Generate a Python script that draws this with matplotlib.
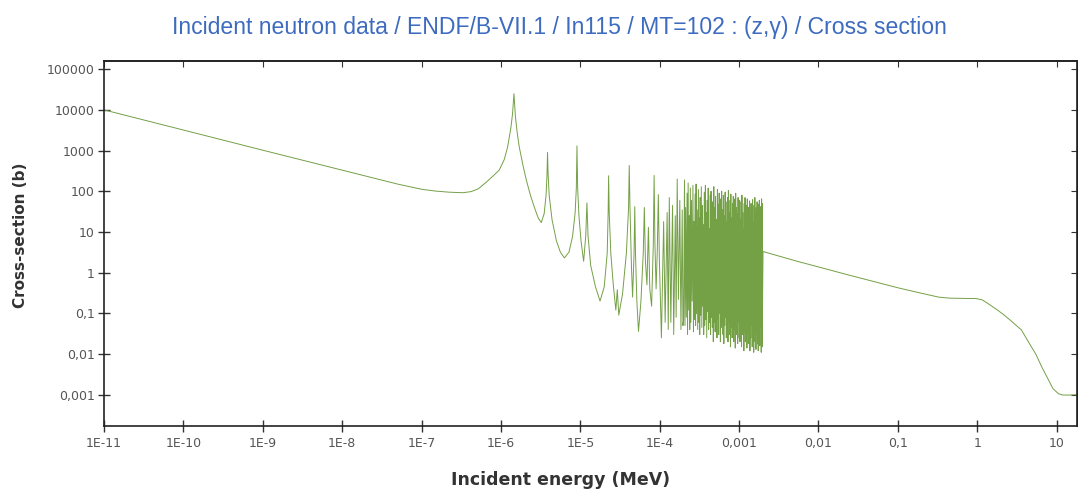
#importaciones
import numpy as np
import matplotlib
matplotlib.use('Agg')
import matplotlib.pyplot as plt
from matplotlib.ticker import NullLocator

#datos

# zona 1/v y primeras resonancias aisladas (E en MeV, sigma en b)
bajo_e = [1e-11, 1e-9, 5e-8, 1e-7, 1.5e-7, 2.2e-7, 3.3e-7, 4.2e-7, 5.2e-7, 6.6e-7,
          8e-7, 9.5e-7, 1.1e-6,
          1.21e-6, 1.33e-6, 1.40e-6, 1.457e-6, 1.52e-6, 1.60e-6, 1.70e-6, 1.90e-6, 2.09e-6, 2.35e-6,
          2.64e-6, 2.95e-6, 3.22e-6, 3.50e-6, 3.70e-6, 3.80e-6, 3.86e-6, 3.93e-6, 4.05e-6, 4.40e-6,
          5.0e-6, 5.6e-6, 6.3e-6, 7.2e-6, 8.0e-6, 8.6e-6, 8.9e-6, 9.07e-6, 9.25e-6, 9.6e-6,
          1.02e-5, 1.10e-5, 1.17e-5, 1.21e-5, 1.25e-5, 1.35e-5, 1.55e-5, 1.77e-5, 2.0e-5, 2.18e-5,
          2.24e-5, 2.27e-5, 2.31e-5, 2.42e-5, 2.6e-5, 2.8e-5, 2.92e-5, 3.05e-5, 3.4e-5, 3.8e-5,
          4.05e-5, 4.13e-5, 4.22e-5, 4.40e-5, 4.55e-5, 4.75e-5, 4.85e-5, 4.95e-5, 5.15e-5, 5.4e-5,
          5.8e-5, 6.2e-5, 6.4e-5, 6.6e-5, 6.9e-5, 7.2e-5, 7.5e-5, 7.9e-5, 8.3e-5, 8.5e-5,
          8.7e-5, 9.0e-5, 9.3e-5, 9.6e-5, 9.9e-5, 1.05e-4, 1.12e-4, 1.17e-4, 1.24e-4, 1.28e-4,
          1.32e-4, 1.38e-4, 1.45e-4, 1.50e-4, 1.57e-4, 1.61e-4, 1.66e-4, 1.72e-4, 1.79e-4, 1.85e-4,
          1.92e-4, 1.96e-4, 2.00e-4]
bajo_xs = [10000, 1020, 150, 112, 101, 95, 92, 98, 115, 170,
           240, 330, 600,
           1200, 3500, 8000, 25000, 7000, 2800, 1230, 420, 187, 80,
           40, 22, 17, 28, 80, 250, 900, 250, 80, 20,
           6, 3.2, 2.3, 3.2, 8, 30, 120, 1300, 120, 25,
           6, 1.9, 8, 52, 8, 1.5, 0.45, 0.2, 0.45, 3,
           30, 240, 30, 3, 0.5, 0.12, 0.38, 0.09, 0.3, 3,
           40, 430, 40, 1.5, 0.25, 3, 42, 3, 0.2, 0.036,
           0.2, 3, 40, 2, 0.5, 13, 0.4, 0.15, 5, 245,
           5, 0.4, 3, 83, 2, 0.025, 18, 0.06, 30, 0.04,
           70, 0.06, 45, 0.03, 25, 0.08, 200, 0.22, 60, 0.04,
           35, 0.05, 0.07]

# bosque de resonancias entre 200 eV y 2 keV (E en eV)
pico_ev = [205, 212, 221, 228, 236, 243, 251, 262, 270, 279,
           287, 296, 307, 316, 323, 334, 345, 353, 364, 376,
           385, 397, 408, 418, 431, 443, 455, 466, 480, 493,
           505, 519, 533, 546, 561, 575, 588, 603, 620, 634,
           650, 667, 682, 699, 716, 733, 752, 770, 787, 806,
           826, 845, 866, 884, 905, 927, 948, 970, 992, 1015,
           1038, 1062, 1085, 1110, 1136, 1160, 1187, 1213, 1240, 1268,
           1296, 1325, 1355, 1384, 1415, 1447, 1478, 1511, 1545, 1578,
           1613, 1648, 1685, 1722, 1760, 1798, 1838, 1878, 1920, 1948]
pico_xs = [190, 40, 90, 160, 25, 120, 60, 140, 18, 85,
           150, 35, 110, 22, 70, 130, 45, 15, 95, 140,
           30, 60, 120, 12, 80, 100, 28, 55, 130, 40,
           75, 20, 110, 48, 90, 14, 65, 100, 35, 80,
           25, 95, 55, 18, 70, 105, 30, 60, 85, 22,
           50, 75, 16, 65, 90, 40, 28, 70, 45, 60,
           20, 55, 80, 30, 12, 50, 70, 25, 45, 65,
           15, 40, 58, 22, 50, 35, 62, 18, 45, 70,
           28, 40, 55, 14, 48, 60, 30, 42, 65, 50]
valle_ev = [208, 216, 224, 232, 239, 247, 256, 266, 274, 283,
            291, 301, 311, 319, 328, 339, 349, 358, 370, 380,
            391, 402, 413, 424, 437, 449, 460, 473, 486, 499,
            512, 526, 539, 553, 568, 581, 595, 611, 627, 642,
            658, 674, 690, 707, 724, 742, 761, 778, 796, 816,
            835, 855, 875, 894, 916, 937, 959, 981, 1003, 1026,
            1050, 1073, 1097, 1123, 1148, 1173, 1200, 1226, 1254, 1282,
            1310, 1340, 1369, 1399, 1431, 1462, 1494, 1528, 1561, 1595,
            1630, 1666, 1703, 1741, 1779, 1818, 1858, 1899, 1934, 1952]
valle_xs = [0.05, 0.08, 0.03, 0.12, 0.04, 0.06, 0.2, 0.035, 0.07, 0.05,
            0.1, 0.04, 0.06, 0.03, 0.09, 0.045, 0.15, 0.03, 0.05, 0.07,
            0.025, 0.11, 0.04, 0.06, 0.03, 0.08, 0.045, 0.02, 0.06, 0.035,
            0.05, 0.025, 0.07, 0.03, 0.1, 0.02, 0.045, 0.06, 0.03, 0.018,
            0.05, 0.08, 0.025, 0.04, 0.02, 0.065, 0.03, 0.015, 0.045, 0.025,
            0.07, 0.02, 0.04, 0.014, 0.05, 0.03, 0.018, 0.06, 0.025, 0.02,
            0.045, 0.015, 0.03, 0.06, 0.012, 0.035, 0.02, 0.05, 0.014, 0.03,
            0.018, 0.04, 0.012, 0.025, 0.05, 0.015, 0.03, 0.011, 0.04, 0.02,
            0.013, 0.035, 0.018, 0.012, 0.03, 0.016, 0.045, 0.011, 0.025, 0.015]

# zona continua hasta 18 MeV
alto_e = [2.0e-3, 5.4e-3, 2.42e-2, 5.75e-2, 0.102, 0.2, 0.327, 0.45, 0.75, 0.955,
          1.15, 1.4, 1.7, 2.1, 2.6, 3.6, 4.4, 5.45, 6.5, 7.9,
          9.0, 10.6, 12, 14, 18]
alto_xs = [3.3, 1.9, 0.87, 0.56, 0.42, 0.31, 0.25, 0.236, 0.232, 0.232,
           0.215, 0.168, 0.13, 0.096, 0.068, 0.039, 0.02, 0.01, 0.0048, 0.0023,
           0.0014, 0.00105, 0.00098, 0.00098, 0.001]

x_ticks = [1e-11, 1e-10, 1e-9, 1e-8, 1e-7, 1e-6, 1e-5, 1e-4, 1e-3, 1e-2, 1e-1, 1, 10]
x_labels = ['1E-11', '1E-10', '1E-9', '1E-8', '1E-7', '1E-6', '1E-5', '1E-4',
            '0,001', '0,01', '0,1', '1', '10']
y_ticks = [1e5, 1e4, 1e3, 1e2, 10, 1, 0.1, 0.01, 0.001]
y_labels = ['100000', '10000', '1000', '100', '10', '1', '0,1', '0,01', '0,001']

#armar la curva

bosque_e = np.column_stack((pico_ev, valle_ev)).ravel() * 1e-6
bosque_xs = np.column_stack((pico_xs, valle_xs)).ravel()

energia = np.concatenate((bajo_e, bosque_e, alto_e))
seccion = np.concatenate((bajo_xs, bosque_xs, alto_xs))

#grafica

fig = plt.figure(figsize=(10.78, 4.91), dpi=100)
ax = fig.add_axes([0.0965, 0.1334, 0.9025, 0.7426])

ax.plot(energia, seccion, color='#74a046', lw=0.7)

ax.set_xscale('log')
ax.set_yscale('log')
ax.set_xlim(1e-11, 18)
ax.set_ylim(1.75e-4, 1.6e5)

ax.set_xticks(x_ticks, x_labels)
ax.set_yticks(y_ticks, y_labels)
ax.xaxis.set_minor_locator(NullLocator())
ax.yaxis.set_minor_locator(NullLocator())
ax.tick_params(which='major', direction='inout', length=9, width=1.0,
               color='#333333', labelcolor='#555555', labelsize=9, pad=2)
ax.tick_params(axis='x', pad=4)

for s in ax.spines.values():
    s.set_color('#222222')
    s.set_linewidth(1.2)

# marcas cortas hacia dentro arriba y a la derecha
arriba = ax.secondary_xaxis('top')
arriba.set_xticks(x_ticks)
arriba.xaxis.set_minor_locator(NullLocator())
arriba.tick_params(direction='in', length=4, color='#333333', labeltop=False)
arriba.spines['top'].set_color('#222222')
arriba.spines['top'].set_linewidth(1.2)

derecha = ax.secondary_yaxis('right')
derecha.set_yticks(y_ticks)
derecha.yaxis.set_minor_locator(NullLocator())
derecha.tick_params(direction='in', length=4, color='#333333', labelright=False)
derecha.spines['right'].set_color('#222222')

fig.text(0.5185, 0.943, 'Incident neutron data / ENDF/B-VII.1 / In115 / MT=102 : (z,γ) / Cross section',
         ha='center', va='center', fontsize=16.6, color='#3d6bbf', family='Liberation Sans')
fig.text(0.52, 0.022, 'Incident energy (MeV)', ha='center', va='center',
         fontsize=12.5, fontweight='bold', color='#333333')
fig.text(0.0186, 0.52, 'Cross-section (b)', ha='center', va='center', rotation=90,
         fontsize=11, fontweight='bold', color='#333333')

plt.savefig('out.png', dpi=100)
